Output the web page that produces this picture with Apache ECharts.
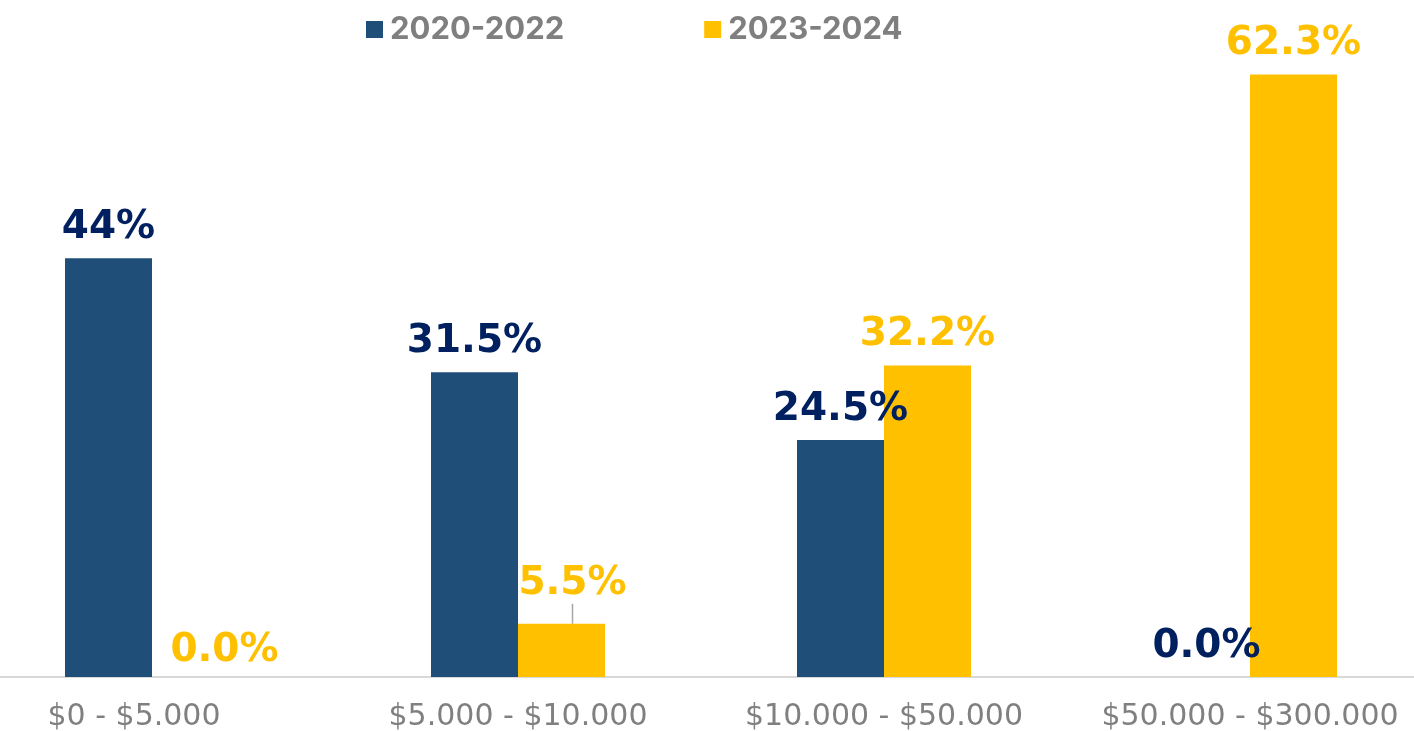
<!DOCTYPE html>
<html>
<head>
<meta charset="utf-8">
<script src="https://cdn.jsdelivr.net/npm/echarts@6/dist/echarts.min.js"></script>
<style>
html,body{margin:0;padding:0;background:#fff;}
#chart{width:1414px;height:731px;}
</style>
</head>
<body>
<div id="chart"></div>
<script>
var categories = ['$0 - $5.000', '$5.000 - $10.000', '$10.000 - $50.000', '$50.000 - $300.000'];
var seriesNames = ['2020-2022', '2023-2024'];
var values2020 = [43.3, 31.5, 24.5, 0];
var values2023 = [0, 5.5, 32.2, 62.3];
var labels2020 = ['44%', '31.5%', '24.5%', '0.0%'];
var labels2023 = ['0.0%', '5.5%', '32.2%', '62.3%'];

var chart = echarts.init(document.getElementById('chart'));

var labelFont = {fontFamily: 'DejaVu Sans', fontWeight: 'bold', fontSize: 39};

function makeData(vals, labels) {
  return vals.map(function (v, i) { return {value: v, labelText: labels[i]}; });
}

var data2023 = makeData(values2023, labels2023);
data2023[1].labelLine = {show: true, lineStyle: {color: '#a6a6a6', width: 1.5}};

chart.setOption({
  animation: false,
  backgroundColor: '#ffffff',
  legend: {
    left: 366,
    top: 14,
    padding: 0,
    itemWidth: 17,
    itemHeight: 17,
    itemGap: 140,
    icon: 'rect',
    textStyle: {fontFamily: 'Inter', fontWeight: 'bold', fontSize: 31, color: '#7f7f7f', padding: [0, 0, 0, 2]},
    data: seriesNames
  },
  grid: {left: -31, width: 1464, top: 0, bottom: 54, containLabel: false, outerBoundsMode: 'none'},
  xAxis: {
    type: 'category',
    data: categories.map(function (c, i) {
      return i === 0 ? {value: c, textStyle: {padding: [0, 36, 0, 0]}} : c;
    }),
    axisLine: {show: true, lineStyle: {color: '#d9d9d9', width: 2}},
    axisTick: {show: false},
    axisLabel: {fontFamily: 'DejaVu Sans', fontSize: 30, color: '#808080', margin: 25, interval: 0}
  },
  yAxis: {
    type: 'value', min: 0, max: 70,
    show: false,
    splitLine: {show: false}
  },
  series: [
    {
      name: seriesNames[0],
      type: 'bar',
      barWidth: 87,
      barGap: '0%',
      itemStyle: {color: '#1F4E79'},
      label: Object.assign({show: true, position: 'top', distance: 11, color: '#002060',
        formatter: function (p) { return p.data.labelText; }}, labelFont),
      data: makeData(values2020, labels2020),
      z: 2
    },
    {
      name: seriesNames[1],
      type: 'bar',
      barWidth: 87,
      barGap: '0%',
      itemStyle: {color: '#FFC000'},
      label: Object.assign({show: true, position: 'top', distance: 11, color: '#FFC000',
        formatter: function (p) { return p.data.labelText; }}, labelFont),
      labelLayout: function (params) {
        if (params.dataIndex === 0) { return {dx: 29, dy: 4}; }
        if (params.dataIndex === 1) {
          var r = params.rect, l = params.labelRect;
          var dx = 11, dy = -9;
          return {
            dx: dx, dy: dy,
            labelLinePoints: [
              [r.x + r.width / 2, r.y],
              [l.x + l.width / 2 + dx, l.y + l.height + dy + 4]
            ]
          };
        }
        return {};
      },
      data: data2023,
      z: 2
    }
  ]
});
</script>
</body>
</html>
